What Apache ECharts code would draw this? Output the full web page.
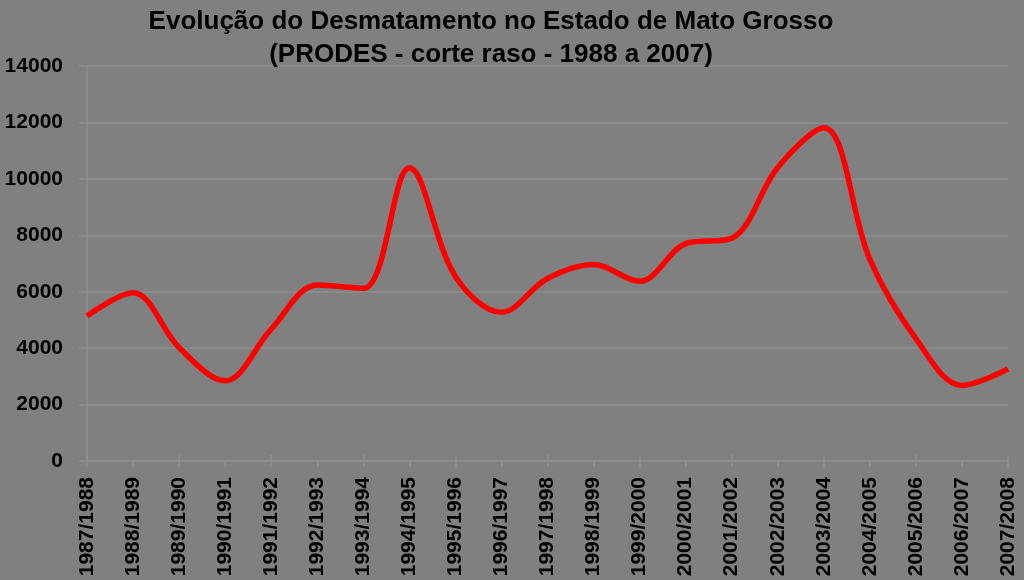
<!DOCTYPE html>
<html>
<head>
<meta charset="utf-8">
<script src="https://cdn.jsdelivr.net/npm/echarts@6/dist/echarts.min.js"></script>
<style>
html,body{margin:0;padding:0;background:#808080;}
#c{width:1024px;height:580px;}
</style>
</head>
<body>
<div id="c"></div>
<script>
const titleLines = ['Evolução do Desmatamento no Estado de Mato Grosso', '(PRODES - corte raso - 1988 a 2007)'];
const categories = ['1987/1988','1988/1989','1989/1990','1990/1991','1991/1992','1992/1993','1993/1994','1994/1995','1995/1996','1996/1997','1997/1998','1998/1999','1999/2000','2000/2001','2001/2002','2002/2003','2003/2004','2004/2005','2005/2006','2006/2007','2007/2008'];
const deforestation = [5140, 5960, 4020, 2840, 4674, 6240, 6120, 10391, 6543, 5271, 6466, 6963, 6369, 7703, 7892, 10405, 11814, 7145, 4333, 2678, 3258];
const yTicks = {min: 0, max: 14000, interval: 2000};

const chart = echarts.init(document.getElementById('c'));
const gridColor = '#8e8e8e';
const fontFam = '"Liberation Sans", Arial, sans-serif';
chart.setOption({
  backgroundColor: '#808080',
  animation: false,
  title: {
    text: titleLines.join('\n'),
    left: 486, top: 0, textAlign: 'center',
    textStyle: {fontFamily: fontFam, fontWeight: 'bold', fontSize: 26, color: '#000', lineHeight: 33}
  },
  grid: {left: 87, right: 16, top: 66, bottom: 119, containLabel: false},
  xAxis: [{
    type: 'category', data: categories, boundaryGap: false,
    axisLine: {lineStyle: {color: gridColor, width: 1.5}},
    axisTick: {show: true, alignWithLabel: true, length: 6, lineStyle: {color: gridColor, width: 1.5}},
    splitLine: {show: false},
    axisLabel: {rotate: 90, interval: 0, margin: 16, color: '#000', fontFamily: fontFam, fontWeight: 'bold', fontSize: 21}
  }, {
    type: 'category', data: categories, boundaryGap: false, position: 'bottom',
    axisLine: {show: false},
    axisTick: {show: true, inside: true, length: 6, lineStyle: {color: gridColor, width: 1.5}},
    axisLabel: {show: false}
  }],
  yAxis: {
    type: 'value', min: yTicks.min, max: yTicks.max, interval: yTicks.interval,
    axisLine: {show: true, lineStyle: {color: gridColor, width: 1.5}},
    axisTick: {show: true, length: 8, lineStyle: {color: gridColor, width: 1.5}},
    splitLine: {show: true, lineStyle: {color: gridColor, width: 1.5}},
    axisLabel: {margin: 24, color: '#000', fontFamily: fontFam, fontWeight: 'bold', fontSize: 21,
      formatter: v => String(v)}
  },
  series: [{
    type: 'line', data: deforestation, smooth: 0.35, symbol: 'none',
    lineStyle: {color: '#ff0000', width: 5.5}
  }]
});
</script>
</body>
</html>
